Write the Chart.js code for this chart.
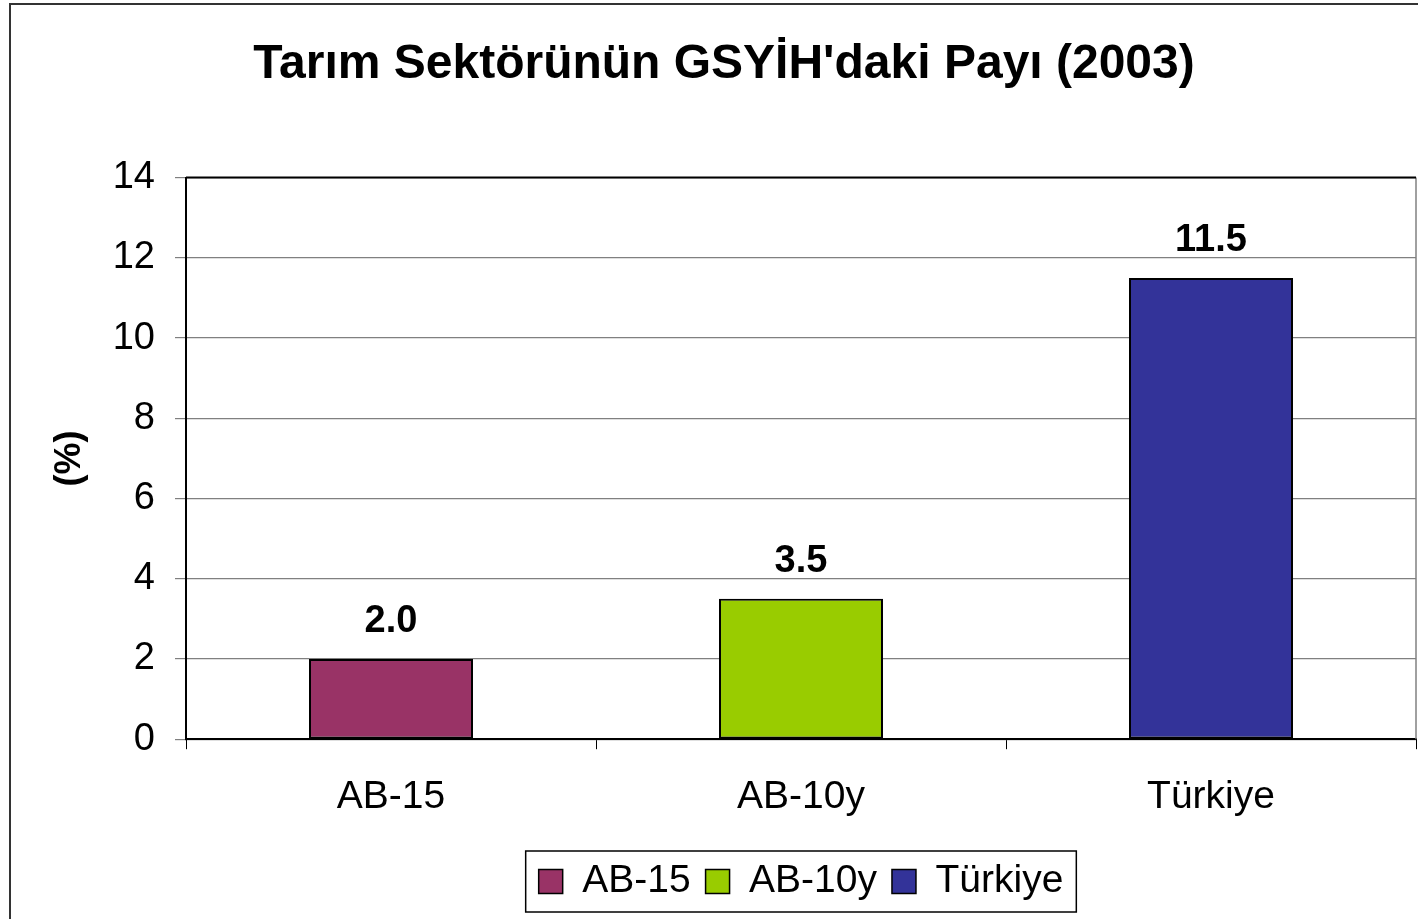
<!DOCTYPE html>
<html>
<head>
<meta charset="utf-8">
<script src="https://cdn.jsdelivr.net/npm/chart.js@4.4.1/dist/chart.umd.min.js"></script>
<style>
  html, body { margin: 0; padding: 0; background: #fff; overflow: hidden; }
  canvas { display: block; }
</style>
</head>
<body>
<canvas id="chart" width="1450" height="919"></canvas>
<script>
const categories = ['AB-15', 'AB-10y', 'Türkiye'];
const shares = [2.0, 3.5, 11.5];
const barColors = ['#993366', '#99CC00', '#333399'];
const yTicks = [0, 2, 4, 6, 8, 10, 12, 14];

const FONT = 'Arial, "Liberation Sans", sans-serif';

// white background, outer frame and top/right plot borders
const framePlugin = {
  id: 'frame',
  beforeDraw(chart) {
    const ctx = chart.ctx;
    ctx.save();
    ctx.fillStyle = '#fff';
    ctx.fillRect(0, 0, chart.width, chart.height);
    ctx.strokeStyle = '#333';
    ctx.lineWidth = 2;
    ctx.strokeRect(10, 4, 2000, 2000);
    ctx.restore();
  },
  afterDatasetsDraw(chart) {
    const { ctx, chartArea: a } = chart;
    ctx.save();
    ctx.strokeStyle = '#808080';
    ctx.lineWidth = 1.5;
    ctx.beginPath();
    ctx.moveTo(a.right, a.top);
    ctx.lineTo(a.right, a.bottom);
    ctx.stroke();
    ctx.strokeStyle = '#000';
    ctx.lineWidth = 2;
    ctx.beginPath();
    ctx.moveTo(a.left, a.top);
    ctx.lineTo(a.right, a.top);
    ctx.stroke();
    ctx.restore();
  }
};

// value labels above bars
const valueLabels = {
  id: 'valueLabels',
  afterDatasetsDraw(chart) {
    const ctx = chart.ctx;
    const meta = chart.getDatasetMeta(0);
    ctx.save();
    ctx.font = 'bold 38px ' + FONT;
    ctx.fillStyle = '#000';
    ctx.textAlign = 'center';
    ctx.textBaseline = 'alphabetic';
    meta.data.forEach((bar, i) => {
      ctx.fillText(shares[i].toFixed(1), bar.x, bar.y - 27);
    });
    ctx.restore();
  }
};

// border around the legend
const legendBox = {
  id: 'legendBox',
  afterDraw(chart) {
    const boxes = chart.legend.legendHitBoxes;
    if (!boxes || !boxes.length) return;
    const left = Math.min(...boxes.map(b => b.left));
    const right = Math.max(...boxes.map(b => b.left + b.width));
    const top = Math.min(...boxes.map(b => b.top));
    const bottom = Math.max(...boxes.map(b => b.top + b.height));
    const ctx = chart.ctx;
    ctx.save();
    ctx.strokeStyle = '#000';
    ctx.lineWidth = 1.5;
    ctx.strokeRect(left - 13, top - 11, right - left + 26, bottom - top + 22);
    ctx.restore();
  }
};

new Chart(document.getElementById('chart'), {
  type: 'bar',
  data: {
    labels: categories,
    datasets: [{
      data: shares,
      backgroundColor: barColors,
      borderColor: '#000',
      borderWidth: 2,
      borderSkipped: false,
      categoryPercentage: 1.0,
      barPercentage: 0.4
    }]
  },
  options: {
    responsive: false,
    animation: false,
    layout: { padding: { top: 10, right: 34, bottom: 8, left: 32 } },
    plugins: {
      title: {
        display: true,
        text: "Tarım Sektörünün GSYİH'daki Payı (2003)",
        color: '#000',
        font: { family: FONT, size: 48, weight: 'bold' },
        padding: { top: 26, bottom: 84 }
      },
      legend: {
        position: 'bottom',
        fullSize: false,
        labels: {
          color: '#000',
          font: { family: FONT, size: 39 },
          boxWidth: 24,
          boxHeight: 24,
          padding: 15,
          generateLabels: () => categories.map((c, i) => ({
            text: c,
            fillStyle: barColors[i],
            strokeStyle: '#000',
            lineWidth: 1.5,
            hidden: false,
            index: i
          }))
        }
      },
      tooltip: { enabled: false }
    },
    scales: {
      x: {
        afterFit: (s) => { s.height += 1; },
        grid: {
          display: true,
          drawOnChartArea: false,
          offset: true,
          tickLength: 10,
          color: '#000'
        },
        border: { color: '#000', width: 2 },
        ticks: {
          color: '#000',
          font: { family: FONT, size: 39 },
          padding: 25
        }
      },
      y: {
        min: 0,
        max: 14,
        afterBuildTicks: (s) => { s.ticks = yTicks.map(v => ({ value: v })); },
        afterFit: (s) => { s.width = 154; },
        grid: { color: '#808080', lineWidth: 1.2, tickLength: 11 },
        border: { color: '#000', width: 2 },
        ticks: {
          color: '#000',
          font: { family: FONT, size: 38 },
          padding: 20
        },
        title: {
          display: true,
          text: '(%)',
          color: '#000',
          font: { family: FONT, size: 36, weight: 'bold' },
          padding: { top: 16, bottom: 0 }
        }
      }
    }
  },
  plugins: [framePlugin, valueLabels, legendBox]
});
</script>
</body>
</html>
